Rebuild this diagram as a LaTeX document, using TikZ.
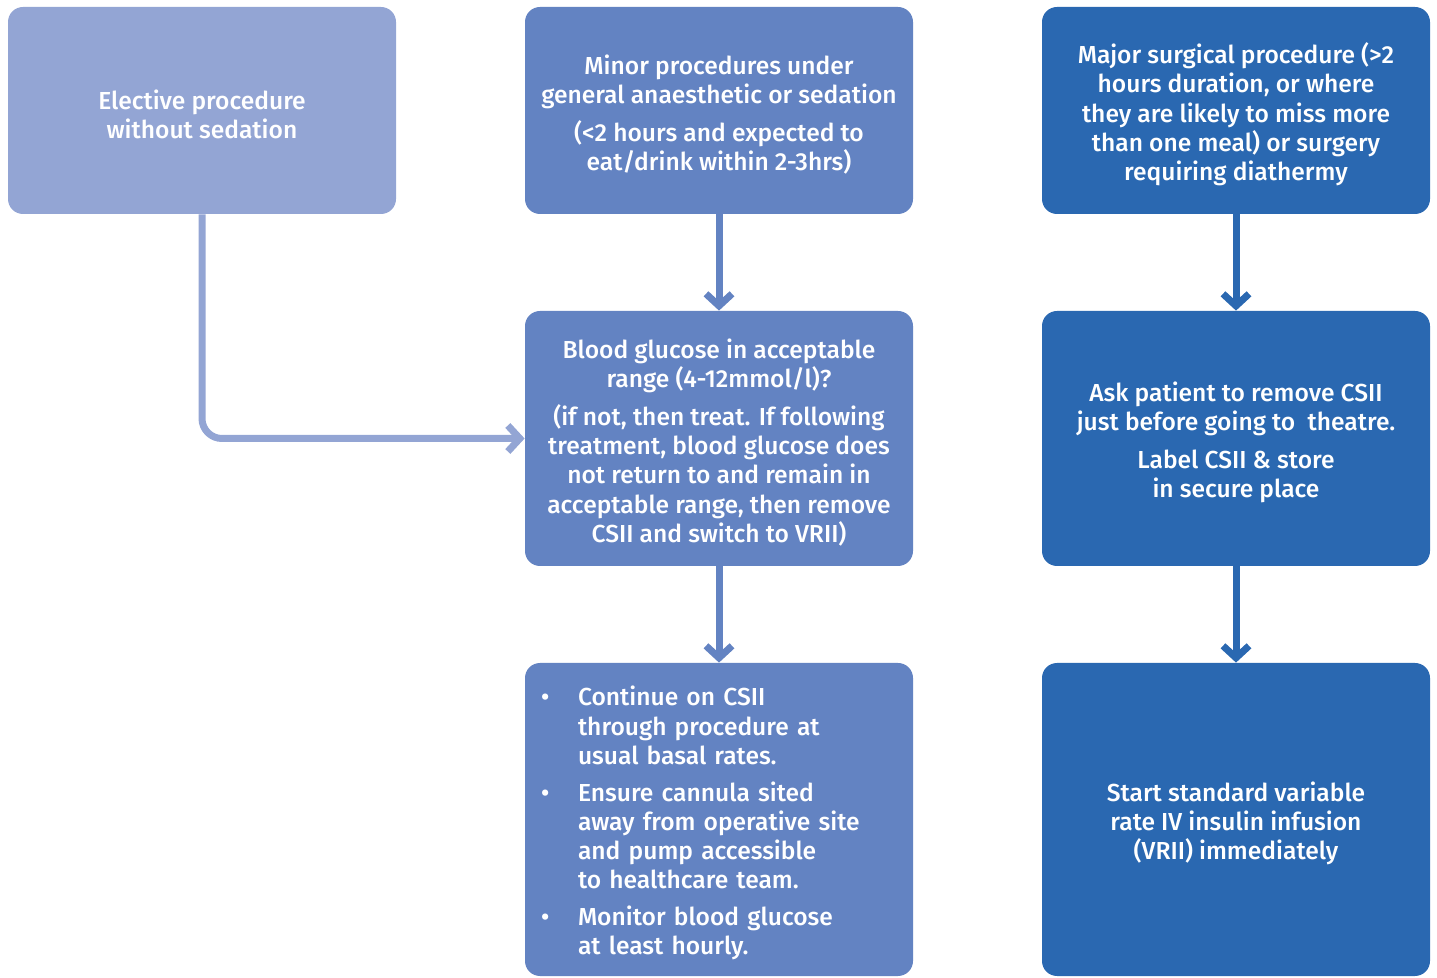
\documentclass[tikz,border=0pt]{standalone}
\usepackage{fontspec}
\setmainfont{Fira Sans Medium}
\usetikzlibrary{arrows.meta}
\definecolor{cA}{HTML}{93A5D4}
\definecolor{cB}{HTML}{6383C2}
\definecolor{cC}{HTML}{2A68B1}
\tikzset{
  box/.style={rectangle, rounded corners=7.5pt, inner sep=0pt, minimum width=194pt},
  txt/.style={inner sep=0pt, text=white, align=center, font=\fontsize{12.3}{14.65}\selectfont},
  arr/.style={line width=3.5pt, -{Straight Barb[length=6pt, width=13pt]}},
}
\newcommand\pgap{\\[4pt]}
\newcommand\bx[5]{%
  \node[box, fill=#3, minimum height=#4] (#1) at #2 {};
  \node[txt] (#1-t) at ([yshift=-2pt]#1.center) {#5};}
\begin{document}
\begin{tikzpicture}[x=0.5pt, y=-0.5pt]
\useasboundingbox (0,0) rectangle (1437,978);
\bx{A}{(202,110.5)}{cA}{103.5pt}{Elective procedure\\without sedation}
\bx{B}{(719,110.5)}{cB}{103.5pt}{Minor procedures under\\general anaesthetic or sedation\pgap(<2 hours and expected to\\eat/drink within 2-3hrs)}
\bx{C}{(1236,110.5)}{cC}{103.5pt}{Major surgical procedure (>2\\hours duration, or where\\they are likely to miss more\\than one meal) or surgery\\requiring diathermy}
\bx{D}{(719,438.5)}{cB}{127.5pt}{Blood glucose in acceptable\\range (4-12mmol/l)?\pgap(if not, then treat. If following\\treatment, blood glucose does\\not return to and remain in\\acceptable range, then remove\\CSII and switch to VRII)}
\bx{E}{(1236,438.5)}{cC}{127.5pt}{Ask patient to remove CSII\\just before going to\ \ theatre.\pgap Label CSII \& store\\in secure place}
\bx{F}{(719,819.5)}{cB}{156.5pt}{}
\node[txt, text width=194pt, align=left] (F-list) at ([yshift=-2.5pt]F.center) {%
\begin{tabular}{@{}p{26.5pt}@{}l@{}}
\hspace{8pt}\textbullet & Continue on CSII\\
 & through procedure at\\
 & usual basal rates.\\[3.6pt]
\hspace{8pt}\textbullet & Ensure cannula sited\\
 & away from operative site\\
 & and pump accessible\\
 & to healthcare team.\\[3.6pt]
\hspace{8pt}\textbullet & Monitor blood glucose\\
 & at least hourly.
\end{tabular}};
\bx{G}{(1236,819.5)}{cC}{156.5pt}{Start standard variable\\rate IV insulin infusion\\(VRII) immediately}
\draw[arr, cB] (B.south) -- (D.north);
\draw[arr, cB] (D.south) -- (F.north);
\draw[arr, cC] (C.south) -- (E.north);
\draw[arr, cC] (E.south) -- (G.north);
\draw[arr, cA, rounded corners=10pt] (A.south) |- (D.west);
\end{tikzpicture}
\end{document}
